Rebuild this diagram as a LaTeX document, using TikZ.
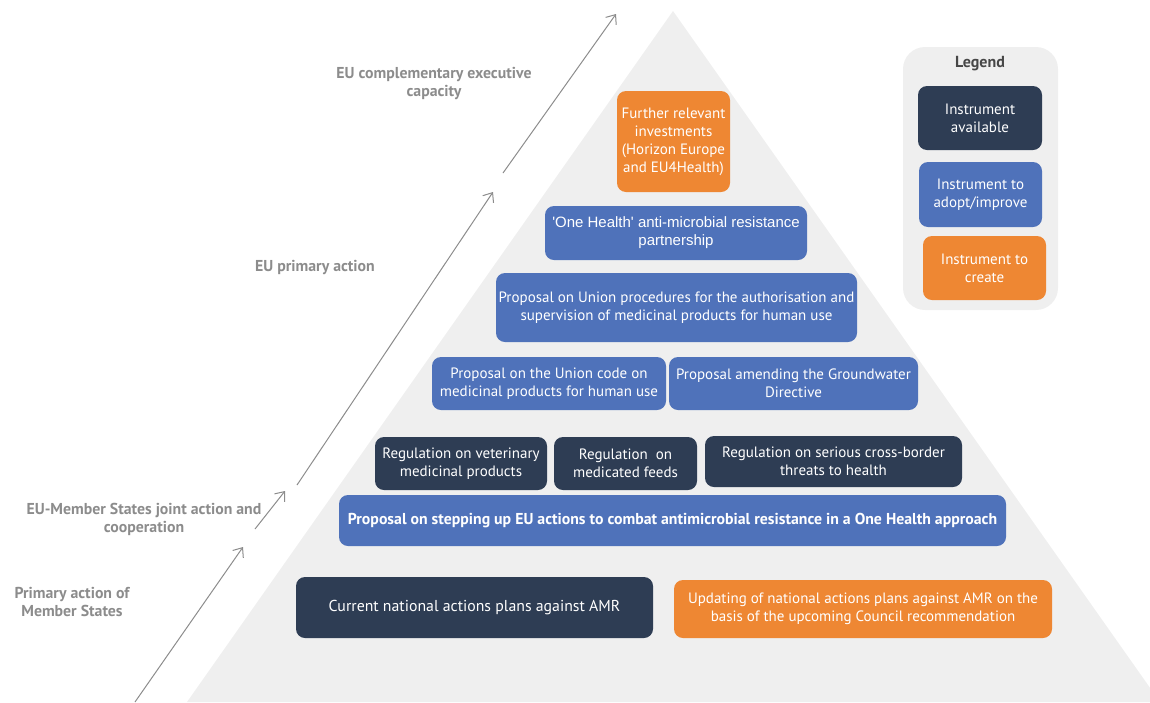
\documentclass[tikz,border=0pt]{standalone}
\usepackage{fontspec}
\setmainfont{PT Sans}
\newfontfamily\arialfont{Liberation Sans}
\usetikzlibrary{arrows.meta}
\definecolor{navy}{HTML}{2E3D54}
\definecolor{steel}{HTML}{4F72BA}
\definecolor{amber}{HTML}{EE8733}
\definecolor{pyramid}{HTML}{EFEFEF}
\definecolor{labelgray}{HTML}{8C8C8C}
\begin{document}
\begin{tikzpicture}[x=1pt, y=-1pt,
        box/.style={rounded corners=9pt, text=white, align=center, inner sep=0pt,
            font=\fontsize{15}{18}\selectfont},
        avail/.style={box, fill=navy},
        adopt/.style={box, fill=steel},
        create/.style={box, fill=amber},
        level/.style={text=labelgray, align=center, font=\bfseries\fontsize{15.8}{18}\selectfont},
        rise/.style={labelgray, line width=1pt, -{Straight Barb[length=8pt, width=13pt]}}]
    \useasboundingbox (0,0) rectangle (1150,702);
    % the pyramid behind the instruments
    \fill[pyramid] (673,11) -- (1160,702) -- (187,702) -- cycle;
    % rising arrow, broken by the level labels
    \foreach \idx/\ax/\ay/\bx/\by in {1/135/702/243/547, 2/255/529/285/491, 3/297/485/493/192, 4/503/173/616/14} {
        \coordinate (r-\idx-s) at (\ax,\ay);
        \coordinate (r-\idx-e) at (\bx,\by);
        \draw[rise] (r-\idx-s) -- (r-\idx-e);
    }
    \node[level] (lvl-compl) at (434,83) {EU complementary executive\\capacity};
    \node[level] (lvl-eu) at (315,267) {EU primary action};
    \node[level] (lvl-joint) at (144,519) {EU-Member States joint action and\\cooperation};
    \node[level] (lvl-ms) at (72,602) {Primary action of\\Member States};
    % instruments, top to bottom
    \node[create, minimum width=113, minimum height=101] (invest) at (673.5,141.5)
        {Further relevant\\investments\\(Horizon Europe\\and EU4Health)};
    \node[adopt, minimum width=262, minimum height=54, font=\arialfont\fontsize{15}{18}\selectfont] (onehealth) at (676,233)
        {'One Health' anti-microbial resistance\\partnership};
    \node[adopt, minimum width=361, minimum height=69] (unionproc) at (676.5,307.5)
        {Proposal on Union procedures for the authorisation and\\supervision of medicinal products for human use};
    \node[adopt, minimum width=234, minimum height=53] (unioncode) at (549,383.5)
        {Proposal on the Union code on\\medicinal products for human use};
    \node[adopt, minimum width=249, minimum height=53] (groundwater) at (793.5,383.5)
        {Proposal amending the Groundwater\\Directive};
    \node[avail, minimum width=172, minimum height=53] (regvet) at (461,463.5)
        {Regulation on veterinary\\medicinal products};
    \node[avail, minimum width=143, minimum height=53] (regfeed) at (625.5,463.5)
        {Regulation\ \ on\\medicated feeds};
    \node[avail, minimum width=257, minimum height=51] (regcross) at (833.5,461.5)
        {Regulation on serious cross-border\\threats to health};
    \node[adopt, minimum width=667, minimum height=51, font=\bfseries\fontsize{15.8}{18}\selectfont] (stepup) at (672.5,520.5)
        {Proposal on stepping up EU actions to combat antimicrobial resistance in a One Health approach};
    \node[avail, minimum width=357, minimum height=61, font=\fontsize{15.8}{18}\selectfont] (current) at (474.5,607.5)
        {Current national actions plans against AMR};
    \node[create, minimum width=378, minimum height=58] (updating) at (863,609)
        {Updating of national actions plans against AMR on the\\basis of the upcoming Council recommendation};
    % legend
    \fill[pyramid, rounded corners=22pt] (903,47) rectangle (1058,310);
    \node[font=\bfseries\fontsize{16}{18}\selectfont, text=black!72] (legend) at (980,64) {Legend};
    \node[avail, minimum width=124, minimum height=64] (key-avail) at (980,118) {Instrument\\available};
    \node[adopt, minimum width=123, minimum height=65] (key-adopt) at (980.5,194.5) {Instrument to\\adopt/improve};
    \node[create, minimum width=123, minimum height=64] (key-create) at (984.5,268) {Instrument to\\create};
\end{tikzpicture}
\end{document}
